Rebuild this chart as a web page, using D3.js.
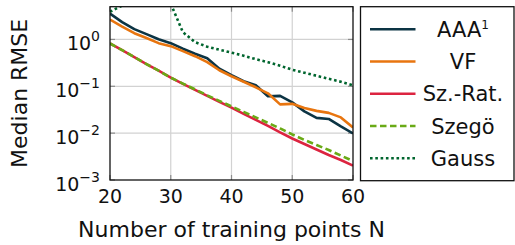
<!DOCTYPE html>
<html>
<head>
<meta charset="utf-8">
<script src="https://cdn.jsdelivr.net/npm/d3@7"></script>
<style>
  html, body { margin: 0; padding: 0; background: #fff; }
  svg { display: block; font-family: 'DejaVu Sans', sans-serif; }
</style>
</head>
<body>
<div id="chart"></div>
<script>
// Training points N (x values)
const N = [20, 22, 24, 26, 28, 30, 32, 34, 36, 38, 40, 42, 44, 46, 48, 50, 52, 54, 56, 58, 60];

// Median RMSE per method
const aaa = [3.57, 2.35, 1.66, 1.30, 1.01, 0.833, 0.635, 0.497, 0.398, 0.237, 0.172,
             0.128, 0.105, 0.0611, 0.0626, 0.0454, 0.0292, 0.0212, 0.0201, 0.0139, 0.00985];
const vf = [2.65, 1.88, 1.36, 1.07, 0.833, 0.719, 0.562, 0.439, 0.327, 0.220, 0.164,
            0.125, 0.0952, 0.0708, 0.0412, 0.0422, 0.0346, 0.0299, 0.0271, 0.0217, 0.0132];
const szRat = [0.821, 0.590, 0.418, 0.299, 0.215, 0.1536, 0.1131, 0.0841, 0.0626, 0.0466, 0.0350,
               0.0258, 0.0192, 0.01426, 0.01035, 0.0077, 0.00587, 0.00448, 0.00341, 0.00267, 0.00203];
const szego = [0.821, 0.590, 0.418, 0.299, 0.215, 0.1536, 0.1142, 0.0862, 0.0642, 0.0489, 0.0373,
               0.0284, 0.0217, 0.01654, 0.0126, 0.00938, 0.00715, 0.00559, 0.00437, 0.00333, 0.00254];
const gauss = [3.90, 5.3, 40, 80, 60, 5.8, 1.43, 0.876, 0.701, 0.605, 0.522,
               0.450, 0.379, 0.327, 0.275, 0.2256, 0.1946, 0.1678, 0.1447, 0.1249, 0.1051];

const xTicks = [20, 30, 40, 50, 60];
const yTicks = [1e0, 1e-1, 1e-2, 1e-3];
const yTickExp = ['0', '\u22121', '\u22122', '\u22123'];

const SERIES = [
  { label: 'AAA', sup: '1', values: aaa,   color: '#0c3444', dash: null },
  { label: 'VF',            values: vf,    color: '#e8750f', dash: null },
  { label: 'Sz.-Rat.',      values: szRat, color: '#dc2440', dash: null },
  { label: 'Szegö',         values: szego, color: '#6aaa16', dash: '6.5,3.5' },
  { label: 'Gauss',         values: gauss, color: '#00652e', dash: '2.6,2.7' },
];

const W = 515, H = 245;
const plot = { left: 110, right: 353, top: 6.7, bottom: 180 };

const svg = d3.select('#chart').append('svg')
  .attr('width', W).attr('height', H);

const x = d3.scaleLinear().domain([20, 60]).range([plot.left, plot.right]);
const y = d3.scaleLog().domain([1e-3, 5]).range([plot.bottom, plot.top]);

// clip for series
svg.append('defs').append('clipPath').attr('id', 'clip')
  .append('rect')
  .attr('x', plot.left).attr('y', plot.top)
  .attr('width', plot.right - plot.left).attr('height', plot.bottom - plot.top);

// grid
const grid = svg.append('g');
xTicks.slice(1, -1).forEach(v => {
  grid.append('line')
    .attr('x1', x(v)).attr('x2', x(v))
    .attr('y1', plot.top).attr('y2', plot.bottom)
    .attr('stroke', '#d2d2d2').attr('stroke-width', 1.2);
});
yTicks.slice(0, -1).forEach(v => {
  grid.append('line')
    .attr('x1', plot.left).attr('x2', plot.right)
    .attr('y1', y(v)).attr('y2', y(v))
    .attr('stroke', '#d2d2d2').attr('stroke-width', 1.2);
});

// small tick marks on the frame
const tk = 5;
xTicks.forEach(v => {
  [[plot.bottom, plot.bottom - tk], [plot.top, plot.top + tk]].forEach(([a, b]) => {
    grid.append('line')
      .attr('x1', x(v)).attr('x2', x(v)).attr('y1', a).attr('y2', b)
      .attr('stroke', '#8c8c8c').attr('stroke-width', 1.2);
  });
});
yTicks.forEach(v => {
  [[plot.left, plot.left + tk], [plot.right, plot.right - tk]].forEach(([a, b]) => {
    grid.append('line')
      .attr('x1', a).attr('x2', b).attr('y1', y(v)).attr('y2', y(v))
      .attr('stroke', '#8c8c8c').attr('stroke-width', 1.2);
  });
});

// series
const line = d3.line()
  .x((d, i) => x(N[i]))
  .y(d => y(d));

const lines = svg.append('g').attr('clip-path', 'url(#clip)');
// draw in order so Szegö dashes sit over Sz.-Rat.
SERIES.forEach(s => {
  lines.append('path')
    .datum(s.values)
    .attr('d', line)
    .attr('fill', 'none')
    .attr('stroke', s.color)
    .attr('stroke-width', 2.6)
    .attr('stroke-linejoin', 'round')
    .attr('stroke-dasharray', s.dash);
});

// frame
svg.append('rect')
  .attr('x', plot.left).attr('y', plot.top)
  .attr('width', plot.right - plot.left).attr('height', plot.bottom - plot.top)
  .attr('fill', 'none').attr('stroke', '#111').attr('stroke-width', 1.3);

// y tick labels
yTicks.forEach((v, i) => {
  const t = svg.append('text')
    .attr('x', 100).attr('y', y(v) + 11)
    .attr('text-anchor', 'end')
    .attr('font-size', 19).attr('fill', '#111');
  t.append('tspan').text('10');
  t.append('tspan').attr('dy', -9).attr('font-size', 14).text(yTickExp[i]);
});

// x tick labels
xTicks.forEach(v => {
  svg.append('text')
    .attr('x', x(v)).attr('y', 203)
    .attr('text-anchor', 'middle')
    .attr('font-size', 19).attr('fill', '#111')
    .text(v);
});

// axis titles
svg.append('text')
  .attr('x', (plot.left + plot.right) / 2).attr('y', 237)
  .attr('text-anchor', 'middle')
  .attr('font-size', 22).attr('fill', '#111')
  .text('Number of training points N');

svg.append('text')
  .attr('transform', `translate(26.5,${(plot.top + plot.bottom) / 2}) rotate(-90)`)
  .attr('text-anchor', 'middle')
  .attr('font-size', 22).attr('fill', '#111')
  .text('Median RMSE');

// legend
const lg = svg.append('g');
lg.append('rect')
  .attr('x', 360.5).attr('y', 6.7)
  .attr('width', 153.5).attr('height', 174)
  .attr('fill', '#fff').attr('stroke', '#111').attr('stroke-width', 1.3);

SERIES.forEach((s, i) => {
  const ly = 29.3 + i * 32.25;
  lg.append('line')
    .attr('x1', 370).attr('x2', 415.5)
    .attr('y1', ly).attr('y2', ly)
    .attr('stroke', s.color).attr('stroke-width', 2.6)
    .attr('stroke-dasharray', s.dash);
  const t = lg.append('text')
    .attr('x', 463).attr('y', ly + 7.5)
    .attr('text-anchor', 'middle')
    .attr('font-size', 21).attr('fill', '#111');
  t.append('tspan').text(s.label);
  if (s.sup) t.append('tspan').attr('dy', -8).attr('font-size', 12).text(s.sup);
});
</script>
</body>
</html>
